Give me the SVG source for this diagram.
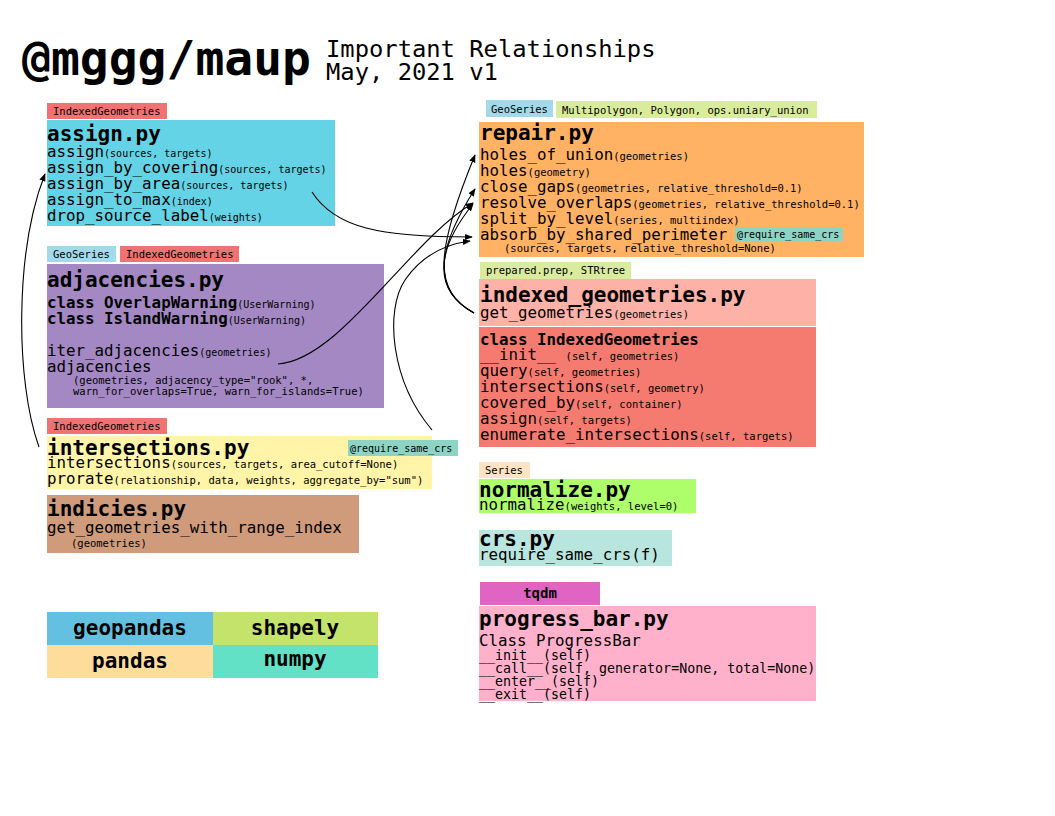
<svg xmlns="http://www.w3.org/2000/svg" width="1055" height="816" viewBox="0 0 1055 816">
<style>
text{font-family:"DejaVu Sans Mono","Liberation Mono",monospace;fill:#000}
.h{font-size:21px;font-weight:bold}
.m{font-size:15.8px}
.mb{font-size:15.8px;font-weight:bold}
.a{font-size:10.5px}
.a10{font-size:10px}
.t{font-size:10.5px}
.leg{font-size:21px;font-weight:bold;text-anchor:middle}
.c{fill:none;stroke:#000;stroke-width:1.1}
</style>
<defs>
<marker id="ar" viewBox="0 0 10 10" refX="9" refY="5" markerWidth="8" markerHeight="8" markerUnits="userSpaceOnUse" orient="auto">
<path d="M0,1 L10,5 L0,9 z" fill="#000"/>
</marker>
</defs>
<rect width="1055" height="816" fill="#fff"/>

<g id="title">
<text x="22" y="75" style="font-size:48px;font-weight:bold">@mggg/maup</text>
<text x="326" y="57" style="font-size:23.8px">Important Relationships</text>
<text x="326" y="80" style="font-size:23.8px">May, 2021 v1</text>
</g>

<g id="assign">
<rect x="47" y="103" width="120" height="16" fill="#f07373"/>
<text x="53" y="115" class="t">IndexedGeometries</text>
<rect x="47" y="120" width="288" height="106" fill="#63d3e5"/>
<text x="47" y="141" class="h">assign.py</text>
<text x="47" y="157" class="m">assign<tspan class="a10">(sources, targets)</tspan></text>
<text x="47" y="173" class="m">assign_by_covering<tspan class="a10">(sources, targets)</tspan></text>
<text x="47" y="189" class="m">assign_by_area<tspan class="a10">(sources, targets)</tspan></text>
<text x="47" y="205" class="m">assign_to_max<tspan class="a10">(index)</tspan></text>
<text x="47" y="221" class="m">drop_source_label<tspan class="a10">(weights)</tspan></text>
</g>

<g id="adjacencies">
<rect x="47" y="246" width="69" height="16" fill="#a4d9ea"/>
<text x="53" y="258" class="t">GeoSeries</text>
<rect x="120" y="246" width="119" height="16" fill="#f07373"/>
<text x="126" y="258" class="t">IndexedGeometries</text>
<rect x="47" y="264" width="337" height="144" fill="#a388c3"/>
<text x="47" y="287" class="h">adjacencies.py</text>
<text x="47" y="308" class="mb">class OverlapWarning<tspan class="a10" style="font-weight:normal">(UserWarning)</tspan></text>
<text x="47" y="324" class="mb">class IslandWarning<tspan class="a10" style="font-weight:normal">(UserWarning)</tspan></text>
<text x="47" y="356" class="m">iter_adjacencies<tspan class="a10">(geometries)</tspan></text>
<text x="47" y="372" class="m">adjacencies</text>
<text x="73" y="384" class="a">(geometries, adjacency_type="rook", *,</text>
<text x="73" y="395" class="a">warn_for_overlaps=True, warn_for_islands=True)</text>
</g>

<g id="intersections">
<rect x="47" y="418" width="120" height="16" fill="#f07373"/>
<text x="53" y="430" class="t">IndexedGeometries</text>
<rect x="47" y="436" width="385" height="53" fill="#fff4a8"/>
<text x="47" y="455" class="h">intersections.py</text>
<rect x="348" y="440" width="110" height="16" fill="#8dd4c5"/>
<text x="350" y="452" class="a10">@require_same_crs</text>
<text x="47" y="468" class="m">intersections<tspan class="a">(sources, targets, area_cutoff=None)</tspan></text>
<text x="47" y="484" class="m">prorate<tspan class="a">(relationship, data, weights, aggregate_by="sum")</tspan></text>
</g>

<g id="indicies">
<rect x="47" y="495" width="312" height="58" fill="#cf9b7b"/>
<text x="47" y="516" class="h">indicies.py</text>
<text x="47" y="533" class="m">get_geometries_with_range_index</text>
<text x="71" y="547" class="a">(geometries)</text>
</g>

<g id="legend">
<rect x="47" y="612" width="166" height="33" fill="#63c0e1"/>
<rect x="213" y="612" width="165" height="33" fill="#c4e36b"/>
<rect x="47" y="645" width="166" height="33" fill="#fedd9c"/>
<rect x="213" y="645" width="165" height="33" fill="#63e1c6"/>
<text x="130" y="635" class="leg">geopandas</text>
<text x="295" y="635" class="leg">shapely</text>
<text x="130" y="668" class="leg">pandas</text>
<text x="295" y="666" class="leg">numpy</text>
</g>

<g id="repair">
<rect x="486" y="100" width="67" height="17" fill="#a4d9ea"/>
<text x="491" y="113" class="t">GeoSeries</text>
<rect x="556" y="101" width="261" height="17" fill="#d9ec9e"/>
<text x="562" y="114" class="t">Multipolygon, Polygon, ops.uniary_union</text>
<rect x="479" y="122" width="385" height="135" fill="#ffb164"/>
<text x="480" y="140" class="h">repair.py</text>
<text x="480" y="160" class="m">holes_of_union<tspan class="a">(geometries)</tspan></text>
<text x="480" y="176" class="m">holes<tspan class="a">(geometry)</tspan></text>
<text x="480" y="192" class="m">close_gaps<tspan class="a">(geometries, relative_threshold=0.1)</tspan></text>
<text x="480" y="208" class="m">resolve_overlaps<tspan class="a">(geometries, relative_threshold=0.1)</tspan></text>
<text x="480" y="224" class="m">split_by_level<tspan class="a">(series, multiindex)</tspan></text>
<text x="480" y="240" class="m">absorb_by_shared_perimeter</text>
<rect x="735" y="227" width="108" height="14" fill="#8dd4c5"/>
<text x="737" y="238" class="a10">@require_same_crs</text>
<text x="504" y="252" class="a">(sources, targets, relative_threshold=None)</text>
</g>

<g id="indexed_geometries">
<rect x="480" y="262" width="151" height="17" fill="#d9ec9e"/>
<text x="486" y="274" class="t">prepared.prep, STRtree</text>
<rect x="479" y="279" width="337" height="47" fill="#feb1a7"/>
<text x="480" y="302" class="h">indexed_geometries.py</text>
<text x="480" y="318" class="m">get_geometries<tspan class="a">(geometries)</tspan></text>
<rect x="479" y="327" width="337" height="120" fill="#f57b71"/>
<text x="480" y="345" class="mb">class IndexedGeometries</text>
<text x="480" y="360" class="m">__init__ <tspan class="a">(self, geometries)</tspan></text>
<text x="480" y="376" class="m">query<tspan class="a">(self, geometries)</tspan></text>
<text x="480" y="392" class="m">intersections<tspan class="a">(self, geometry)</tspan></text>
<text x="480" y="408" class="m">covered_by<tspan class="a">(self, container)</tspan></text>
<text x="480" y="424" class="m">assign<tspan class="a">(self, targets)</tspan></text>
<text x="480" y="440" class="m">enumerate_intersections<tspan class="a">(self, targets)</tspan></text>
</g>

<g id="normalize">
<rect x="479" y="462" width="51" height="16" fill="#fee4c4"/>
<text x="485" y="474" class="t">Series</text>
<rect x="479" y="479" width="217" height="34" fill="#aefd6a"/>
<text x="479" y="497" class="h">normalize.py</text>
<text x="479" y="510" class="m">normalize<tspan class="a">(weights, level=0)</tspan></text>
</g>

<g id="crs">
<rect x="479" y="530" width="193" height="36" fill="#b9e5df"/>
<text x="479" y="546" class="h">crs.py</text>
<text x="479" y="560" class="m">require_same_crs(f)</text>
</g>

<g id="progress_bar">
<rect x="480" y="582" width="120" height="23" fill="#e065c2"/>
<text x="540" y="598" style="font-size:14px;font-weight:bold;text-anchor:middle">tqdm</text>
<rect x="479" y="606" width="337" height="95" fill="#ffb1cc"/>
<text x="479" y="626" class="h">progress_bar.py</text>
<text x="479" y="646" class="m">Class ProgressBar</text>
<text x="479" y="660" style="font-size:13.3px">__init__(self)</text>
<text x="479" y="673" style="font-size:13.3px">__call__(self, generator=None, total=None)</text>
<text x="479" y="686" style="font-size:13.3px">__enter__(self)</text>
<text x="479" y="699" style="font-size:13.3px">__exit__(self)</text>
</g>

<g id="connectors">
<path class="c" marker-end="url(#ar)" d="M312,192 C335,228 380,237 472,237"/>
<path class="c" marker-end="url(#ar)" d="M278,364 C340,360 410,240 473,203"/>
<path class="c" marker-end="url(#ar)" d="M432,430 C390,380 385,310 405,280 C420,258 440,245 470,241"/>
<path class="c" marker-end="url(#ar)" d="M474,313 C432,290 436,250 475,155"/>
<path class="c" marker-end="url(#ar)" d="M474,313 C432,290 436,250 475,189"/>
<path class="c" marker-end="url(#ar)" d="M474,313 C432,290 436,250 473,204"/>
<path class="c" marker-end="url(#ar)" d="M39,447 C15,380 15,250 45,174"/>
</g>
</svg>
